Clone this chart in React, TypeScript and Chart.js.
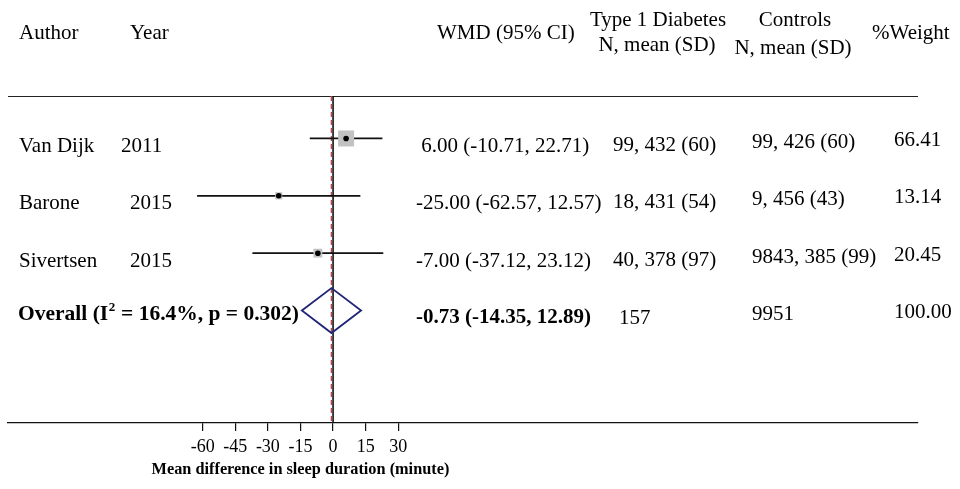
import React, { useEffect, useRef } from 'react';
import { Chart, registerables } from 'chart.js';

Chart.register(...registerables);

// ---------- data ----------
const authors = ['Van Dijk', 'Barone', 'Sivertsen'];
const years = ['2011', '2015', '2015'];
const wmd = [6.0, -25.0, -7.0];
const ciLow = [-10.71, -62.57, -37.12];
const ciHigh = [22.71, 12.57, 23.12];
const t1dStats = ['99, 432 (60)', '18, 431 (54)', '40, 378 (97)'];
const controlStats = ['99, 426 (60)', '9, 456 (43)', '9843, 385 (99)'];
const weights = [66.41, 13.14, 20.45];

const overallEst = -0.73;
const overallLow = -14.35;
const overallHigh = 12.89;
const overallI2 = 16.4;
const overallP = 0.302;
const overallT1dN = 157;
const overallControlN = 9951;
const overallWeight = 100.0;

const xTicks = [-60, -45, -30, -15, 0, 15, 30];
const xTitle = 'Mean difference in sleep duration (minute)';

// ---------- layout / style ----------
const SERIF = "'Liberation Serif', 'Times New Roman', serif";
const FS = 21;
const X_MIN = -149.6;
const X_MAX = 269.2;
const Y_MIN = 0.26;
const Y_MAX = 5.96;
const OVERALL_ROW = authors.length + 1;
const BOX_K = 16 / Math.sqrt(66.41); // box side in px per sqrt(weight)
const DIAMOND_HALF_H = 22.5;
const NAVY = '#1f2577';
const yearX = [121, 130, 130];

const fmt = (v: number) => v.toFixed(2);
const wmdText = (e: number, l: number, h: number) =>
  `${e >= 0 ? ' ' : ''}${fmt(e)} (${fmt(l)}, ${fmt(h)})`;

const forestPlugin = {
  id: 'forest',
  beforeDatasetsDraw(chart: any) {
    const { ctx, chartArea, scales } = chart;
    const x = scales.x;
    ctx.save();
    // top rule
    ctx.strokeStyle = '#222';
    ctx.lineWidth = 1.2;
    ctx.beginPath();
    ctx.moveTo(chartArea.left, chartArea.top + 0.5);
    ctx.lineTo(chartArea.right, chartArea.top + 0.5);
    ctx.stroke();
    // null line
    const x0 = x.getPixelForValue(0);
    ctx.strokeStyle = '#111';
    ctx.lineWidth = 1.6;
    ctx.beginPath();
    ctx.moveTo(x0, chartArea.top);
    ctx.lineTo(x0, chartArea.bottom);
    ctx.stroke();
    // overall estimate dashed line
    const xe = x.getPixelForValue(overallEst);
    ctx.strokeStyle = '#b3474f';
    ctx.lineWidth = 1.5;
    ctx.setLineDash([5, 3]);
    ctx.beginPath();
    ctx.moveTo(xe, chartArea.top);
    ctx.lineTo(xe, chartArea.bottom);
    ctx.stroke();
    ctx.restore();
  },
  afterDatasetsDraw(chart: any) {
    const { ctx, scales } = chart;
    const x = scales.x;
    const y = scales.y;
    const yc = y.getPixelForValue(OVERALL_ROW);
    const xl = x.getPixelForValue(overallLow);
    const xm = x.getPixelForValue(overallEst);
    const xh = x.getPixelForValue(overallHigh);
    ctx.save();
    ctx.strokeStyle = NAVY;
    ctx.lineWidth = 1.8;
    ctx.beginPath();
    ctx.moveTo(xl, yc);
    ctx.lineTo(xm, yc - DIAMOND_HALF_H);
    ctx.lineTo(xh, yc);
    ctx.lineTo(xm, yc + DIAMOND_HALF_H);
    ctx.closePath();
    ctx.stroke();
    ctx.restore();
  },
  afterDraw(chart: any) {
    const { ctx, scales } = chart;
    const x = scales.x;
    const y = scales.y;
    ctx.save();
    ctx.fillStyle = '#000';
    ctx.textBaseline = 'middle';
    const norm = `${FS}px ${SERIF}`;
    const bold = `bold ${FS}px ${SERIF}`;
    const boldL = `bold 21.5px ${SERIF}`;
    const put = (t: string, px: number, py: number, align: CanvasTextAlign = 'left', font = norm) => {
      ctx.font = font;
      ctx.textAlign = align;
      ctx.fillText(t, px, py);
    };
    // headers
    put('Author', 19, 33);
    put('Year', 130, 33);
    put('WMD (95% CI)', 437, 33);
    put('Type 1 Diabetes', 658, 20, 'center');
    put('N, mean (SD)', 657, 45, 'center');
    put('Controls', 795, 20, 'center');
    put('N, mean (SD)', 793, 48, 'center');
    put('%Weight', 872, 33);

    // study rows
    authors.forEach((a, i) => {
      const py = y.getPixelForValue(i + 1);
      put(a, 19, py + 8);
      put(years[i], yearX[i], py + 8);
      put(wmdText(wmd[i], ciLow[i], ciHigh[i]), 416, py + 8);
      put(t1dStats[i], 613, py + 7);
      put(controlStats[i], 752, py + 4);
      put(fmt(weights[i]), 894, py + 2);
    });

    // overall row
    const po = y.getPixelForValue(OVERALL_ROW);
    ctx.font = boldL;
    ctx.textAlign = 'left';
    let cx = 18;
    const p1 = 'Overall (I';
    ctx.fillText(p1, cx, po + 4);
    cx += ctx.measureText(p1).width;
    ctx.font = `bold 13px ${SERIF}`;
    ctx.fillText('2', cx + 0.5, po - 3);
    cx += ctx.measureText('2').width + 1;
    ctx.font = boldL;
    ctx.fillText(` = ${overallI2.toFixed(1)}%, p = ${overallP.toFixed(3)})`, cx, po + 4);
    put(wmdText(overallEst, overallLow, overallHigh).trim(), 416, po + 7, 'left', bold);
    put(String(overallT1dN), 619, po + 8);
    put(String(overallControlN), 752, po + 4);
    put(fmt(overallWeight), 894, po + 2);

    // axis title centred under the tick range
    const tc = x.getPixelForValue((xTicks[0] + xTicks[xTicks.length - 1]) / 2);
    put(xTitle, tc, 470, 'center', `bold 16.3px ${SERIF}`);
    ctx.restore();
  },
};

export default function App() {
  const ref = useRef<HTMLCanvasElement | null>(null);
  useEffect(() => {
    if (!ref.current) return;
    const rows = authors.map((_, i) => i + 1);
    const ciSets = rows.map((r, i) => ({
      type: 'scatter' as const,
      data: [
        { x: ciLow[i], y: r },
        { x: ciHigh[i], y: r },
      ],
      showLine: true,
      borderColor: '#111',
      borderWidth: 1.8,
      pointRadius: 0,
      order: 2,
    }));
    const chart = new Chart(ref.current, {
      type: 'scatter',
      data: {
        datasets: [
          {
            data: wmd.map((v, i) => ({ x: v, y: rows[i] })),
            pointStyle: 'circle',
            pointRadius: 2.8,
            backgroundColor: '#000',
            borderWidth: 0,
            order: 0,
          },
          {
            data: wmd.map((v, i) => ({ x: v, y: rows[i] })),
            pointStyle: 'rect',
            pointRadius: (c: any) => (BOX_K * Math.sqrt(weights[c.dataIndex])) / Math.SQRT2,
            backgroundColor: '#c2c2c2',
            borderWidth: 0,
            order: 1,
          },
          ...ciSets,
        ] as any,
      },
      options: {
        animation: false,
        responsive: true,
        maintainAspectRatio: false,
        events: [],
        layout: { autoPadding: false, padding: { left: 8, right: 42, top: 96, bottom: 0 } },
        plugins: { legend: { display: false }, tooltip: { enabled: false } },
        scales: {
          x: {
            type: 'linear',
            min: X_MIN,
            max: X_MAX,
            afterBuildTicks: (s: any) => {
              s.ticks = xTicks.map((v) => ({ value: v }));
            },
            afterFit: (s: any) => {
              s.height = 66;
              s.paddingLeft = 0;
              s.paddingRight = 0;
            },
            grid: {
              display: true,
              drawOnChartArea: false,
              drawTicks: true,
              tickLength: 8,
              color: '#111',
              lineWidth: 1.2,
            },
            border: { display: true, color: '#111', width: 1.2 },
            ticks: {
              autoSkip: false,
              maxRotation: 0,
              padding: 5,
              color: '#000',
              font: { family: SERIF, size: 18 },
            },
          },
          y: {
            type: 'linear',
            display: false,
            reverse: true,
            min: Y_MIN,
            max: Y_MAX,
          },
        },
      },
      plugins: [forestPlugin],
    });
    return () => chart.destroy();
  }, []);
  return (
    <div style={{ position: 'fixed', left: 0, top: 0, width: 960, height: 489, background: '#fff' }}>
      <canvas ref={ref} />
    </div>
  );
}
